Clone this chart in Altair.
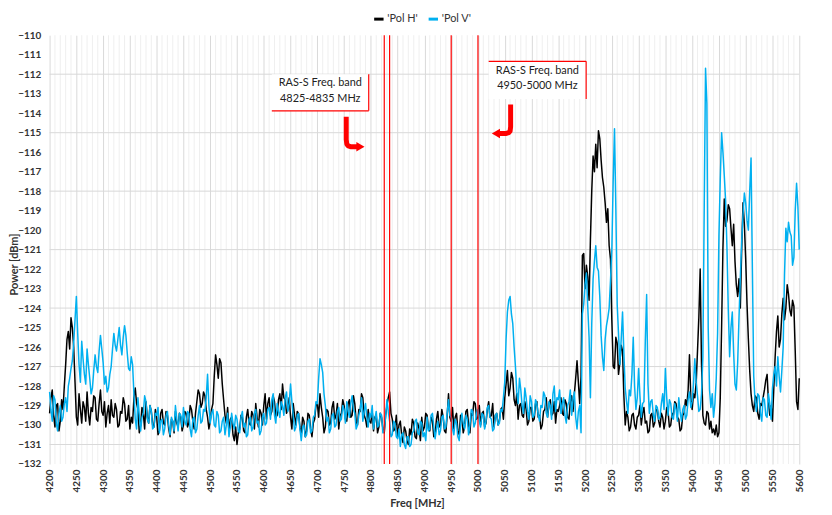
import altair as alt
import pandas as pd

# ---------------- data (one row = 50 MHz, 2.5 MHz step) ----------------
freq_start = 4200
freq_step = 2.5

pol_h = [
    -129.4, -128.6, -128.2, -129.5, -130.1, -129.0, -128.9, -130.3, -129.8, -128.7, -129.2, -128.0, -126.9, -125.6, -125.2, -126.1, -124.5, -125.0, -126.0, -127.8,  # 4200
    -129.6, -130.0, -128.4, -129.2, -129.9, -128.8, -129.1, -129.8, -128.3, -129.4, -130.0, -129.1, -129.3, -128.5, -128.6, -129.7, -129.8, -128.9, -128.2, -129.3,  # 4250
    -129.5, -128.8, -130.1, -129.4, -129.0, -129.9, -128.7, -129.5, -129.6, -128.9, -129.2, -130.1, -130.0, -129.3, -129.4, -128.6, -128.9, -129.8, -129.7, -129.0,  # 4300
    -130.2, -129.6, -129.9, -128.6, -128.1, -128.9, -129.2, -130.4, -130.0, -129.1, -129.4, -130.2, -128.8, -129.6, -129.9, -129.0, -129.3, -130.0, -130.1, -129.2,  # 4350
    -129.6, -130.5, -130.3, -129.4, -129.2, -129.9, -130.0, -129.3, -129.5, -130.2, -130.6, -129.7, -129.8, -130.4, -129.3, -129.9, -130.1, -129.4, -129.6, -130.3,  # 4400
    -130.0, -129.3, -129.4, -130.1, -129.9, -129.0, -129.2, -129.8, -130.2, -129.4, -128.8, -128.2, -128.4, -129.1, -128.9, -128.3, -128.5, -129.2, -129.6, -130.2,  # 4450
    -129.8, -129.2, -128.9, -127.5, -126.4, -126.9, -127.6, -126.6, -126.8, -127.9, -128.7, -129.5, -129.9, -129.1, -130.4, -129.7, -129.6, -130.5, -130.8, -130.1,  # 4500
    -131.0, -130.4, -130.2, -129.5, -129.6, -130.3, -130.4, -129.6, -129.2, -129.9, -130.0, -129.3, -129.5, -130.2, -128.9, -129.6, -130.1, -129.2, -129.4, -130.0,  # 4550
    -129.0, -128.4, -129.7, -128.9, -128.6, -129.5, -129.3, -128.5, -128.8, -129.6, -129.5, -128.7, -128.4, -129.2, -127.9, -128.6, -128.7, -129.4, -129.2, -128.6,  # 4600
    -129.6, -130.2, -128.9, -129.5, -130.0, -129.3, -129.4, -130.1, -130.5, -129.6, -129.8, -130.6, -130.3, -129.4, -129.5, -130.2, -130.6, -129.9, -129.7, -129.0,  # 4650
    -128.9, -129.6, -128.4, -129.1, -129.6, -130.4, -130.1, -129.2, -129.3, -130.0, -129.9, -129.1, -128.8, -129.7, -129.5, -128.9, -130.2, -129.5, -129.4, -128.7,  # 4700
    -129.0, -129.7, -129.8, -128.9, -128.7, -129.6, -129.5, -128.5, -128.9, -129.8, -130.0, -129.2, -129.3, -128.4, -128.6, -129.5, -129.7, -130.1, -129.2, -129.8,  # 4750
    -129.9, -129.3, -130.3, -129.6, -129.5, -130.4, -130.1, -129.4, -129.6, -130.2, -130.4, -129.5, -129.0, -128.6, -128.3, -129.4, -129.7, -130.3, -130.2, -129.5,  # 4800
    -130.6, -130.0, -129.8, -130.5, -130.9, -130.1, -130.3, -130.8, -131.0, -130.2, -130.5, -129.7, -129.9, -130.6, -130.7, -129.9, -130.2, -130.8, -129.6, -130.3,  # 4850
    -130.1, -129.4, -129.5, -130.2, -130.3, -129.6, -129.8, -130.6, -130.5, -129.7, -129.3, -130.1, -130.0, -129.2, -129.6, -130.3, -130.4, -129.5, -128.4, -129.6,  # 4900
    -129.8, -129.1, -130.2, -129.6, -129.4, -130.3, -130.5, -129.5, -129.7, -130.4, -130.1, -129.3, -129.2, -130.0, -130.4, -129.4, -129.5, -128.8, -128.9, -129.7,  # 4950
    -129.6, -129.0, -130.0, -129.4, -129.3, -130.1, -129.9, -129.2, -128.8, -129.6, -129.5, -128.9, -130.1, -129.5, -129.4, -130.0, -129.8, -129.2, -129.1, -129.7,  # 5000
    -128.6, -127.9, -127.2, -128.5, -128.1, -127.3, -127.6, -128.7, -129.0, -128.4, -129.7, -129.0, -128.9, -129.5, -129.6, -128.8, -129.2, -130.0, -129.8, -129.1,  # 5050
    -129.1, -129.8, -129.7, -128.9, -128.8, -129.6, -129.5, -130.2, -130.0, -129.3, -129.2, -128.6, -129.6, -129.0, -128.7, -129.5, -129.4, -128.8, -129.9, -129.2,  # 5100
    -129.3, -129.0, -128.6, -129.4, -129.5, -128.7, -128.9, -129.6, -129.7, -128.8, -128.5, -129.3, -128.4, -127.6, -126.7, -127.8, -128.9, -127.5, -121.3, -121.2,  # 5150
    -123.0, -121.8, -122.4, -123.6, -120.5, -118.0, -116.2, -117.0, -115.6, -116.8, -114.9, -115.3, -116.4, -117.3, -117.8, -118.6, -119.6, -118.9, -120.8, -121.5,  # 5200
    -124.6, -127.0, -127.1, -125.5, -125.8, -127.4, -126.8, -125.9, -126.2, -128.5, -130.0, -129.3, -129.6, -130.3, -130.1, -129.5, -129.4, -130.0, -130.2, -129.6,  # 5250
    -129.5, -129.0, -130.0, -129.4, -129.1, -129.9, -129.8, -130.4, -130.3, -129.5, -129.4, -130.1, -129.9, -129.2, -129.2, -129.8, -130.1, -129.4, -129.6, -130.2,  # 5300
    -129.8, -129.1, -129.3, -130.1, -130.0, -129.4, -129.5, -128.8, -128.9, -129.6, -129.7, -130.3, -130.2, -129.5, -129.4, -128.7, -129.0, -128.2, -126.4, -128.6,  # 5350
    -129.2, -128.4, -128.6, -127.8, -126.2, -124.5, -122.0, -126.9, -129.5, -129.9, -130.0, -129.3, -129.4, -130.2, -129.8, -130.4, -130.2, -130.5, -130.0, -130.6,  # 5400
    -130.4, -128.6, -125.0, -120.9, -118.4, -119.8, -119.5, -118.7, -118.9, -119.9, -120.8, -119.7, -121.6, -122.8, -123.4, -122.5, -124.0, -121.0, -118.6, -119.7,  # 5450
    -121.5, -123.8, -125.6, -127.2, -128.4, -129.0, -129.3, -128.5, -128.6, -129.4, -129.7, -128.9, -129.0, -128.6, -128.2, -127.7, -127.4, -128.8, -129.5, -129.0,  # 5500
    -129.8, -128.1, -126.5, -125.2, -124.4, -126.0, -125.6, -124.3, -123.5, -124.6, -124.0, -122.8, -123.3, -124.1, -124.4, -123.6, -123.9, -126.2, -128.8, -129.2,  # 5550
    -127.6,                                                                                                                                                          # 5600
]

pol_v = [
    -128.3, -129.2, -129.8, -128.5, -128.7, -129.9, -130.3, -129.4, -129.0, -129.8, -129.6, -128.9, -128.6, -129.3, -128.0, -127.6, -127.1, -126.7, -125.8, -124.6,  # 4200
    -123.4, -125.3, -126.9, -127.8, -125.7, -126.6, -127.4, -127.9, -126.1, -126.9, -127.6, -128.4, -128.1, -127.2, -126.4, -127.0, -127.3, -126.2, -125.4, -126.1,  # 4250
    -126.8, -127.9, -127.5, -128.3, -128.1, -127.4, -127.0, -126.1, -125.3, -125.9, -126.2, -125.6, -125.0, -125.9, -126.4, -125.5, -124.9, -125.4, -126.3, -127.1,  # 4300
    -127.2, -126.5, -126.9, -128.4, -129.7, -130.2, -128.6, -129.5, -130.3, -129.6, -129.4, -128.5, -128.8, -129.7, -129.9, -129.0, -129.3, -130.2, -130.1, -129.4,  # 4350
    -129.5, -129.1, -130.4, -129.8, -129.7, -130.5, -130.2, -129.5, -129.3, -130.0, -130.5, -129.6, -129.8, -130.3, -129.0, -129.7, -130.3, -129.4, -129.5, -130.1,  # 4400
    -129.1, -129.8, -130.0, -129.3, -129.4, -130.2, -130.6, -129.7, -129.6, -130.4, -130.2, -129.5, -129.0, -129.9, -129.8, -129.2, -129.3, -128.6, -127.4, -129.0,  # 4450
    -129.9, -129.4, -129.2, -130.0, -130.1, -129.3, -129.5, -130.4, -130.3, -129.8, -129.6, -130.5, -130.0, -129.4, -130.6, -130.1, -129.4, -129.9, -130.2, -129.5,  # 4500
    -129.7, -130.3, -130.4, -129.6, -129.3, -130.1, -129.9, -130.6, -130.5, -129.7, -129.6, -130.3, -130.1, -129.4, -129.2, -129.9, -129.8, -130.5, -130.3, -129.6,  # 4550
    -129.4, -130.0, -129.9, -129.2, -129.1, -129.7, -128.7, -128.4, -129.5, -129.9, -128.9, -129.3, -129.6, -128.8, -129.0, -129.5, -128.6, -128.3, -129.3, -128.9,  # 4600
    -127.9, -128.8, -129.5, -130.3, -130.1, -129.5, -129.4, -130.2, -130.8, -130.1, -130.0, -130.6, -130.5, -129.8, -129.7, -130.4, -130.3, -129.6, -129.5, -128.8,  # 4650
    -128.9, -127.6, -126.6, -126.9, -127.3, -128.4, -129.0, -129.8, -129.6, -130.4, -130.2, -129.5, -129.4, -130.1, -130.0, -129.3, -129.1, -129.8, -129.7, -129.0,  # 4700
    -129.2, -129.9, -128.8, -129.3, -129.6, -128.9, -128.5, -129.2, -129.4, -130.2, -130.0, -129.5, -129.2, -128.6, -129.8, -129.3, -128.9, -129.6, -130.1, -129.4,  # 4750
    -129.6, -129.0, -130.2, -129.7, -129.3, -130.1, -130.0, -129.4, -129.5, -130.4, -130.3, -129.6, -128.7, -129.3, -129.8, -130.6, -130.5, -129.8, -129.9, -130.6,  # 4800
    -130.7, -130.2, -131.1, -130.5, -130.4, -131.0, -131.2, -130.6, -130.6, -131.1, -131.0, -130.4, -130.3, -129.8, -129.7, -130.4, -130.5, -129.8, -129.9, -130.6,  # 4850
    -130.4, -130.8, -129.6, -130.3, -130.2, -129.5, -129.4, -130.1, -130.7, -130.2, -129.8, -130.5, -130.3, -129.6, -129.5, -130.2, -130.1, -129.4, -128.7, -129.5,  # 4900
    -129.6, -130.2, -130.5, -129.7, -129.9, -130.6, -130.8, -130.0, -129.4, -129.9, -130.2, -129.5, -129.7, -130.5, -130.0, -129.2, -129.3, -130.1, -129.9, -129.4,  # 4950
    -129.2, -129.8, -130.1, -129.4, -129.5, -130.2, -129.8, -129.1, -129.0, -129.6, -129.7, -130.3, -130.2, -129.5, -129.4, -130.0, -129.9, -129.2, -129.3, -128.6,  # 5000
    -127.8, -125.6, -124.2, -123.6, -123.4, -124.3, -124.8, -126.0, -127.0, -128.3, -128.9, -127.6, -128.2, -129.0, -129.4, -128.1, -128.6, -129.3, -129.7, -128.5,  # 5050
    -128.8, -129.6, -129.5, -128.7, -128.9, -129.5, -129.8, -129.0, -129.1, -128.3, -128.5, -129.4, -129.6, -128.8, -129.0, -129.7, -128.4, -128.0, -129.3, -128.6,  # 5100
    -128.7, -128.2, -129.4, -128.9, -128.6, -129.5, -129.9, -129.0, -128.8, -128.2, -129.5, -128.7, -128.3, -129.6, -130.2, -129.3, -129.0, -130.4, -124.3, -123.8,  # 5150
    -122.8, -122.2, -123.9, -125.5, -128.6, -124.8, -122.5, -121.6, -120.8, -121.9, -122.1, -123.4, -125.4, -126.5, -127.2, -125.6, -124.9, -124.5, -124.0, -122.6,  # 5200
    -121.0, -117.5, -114.8, -118.9, -123.8, -125.3, -126.9, -125.6, -124.2, -126.3, -128.1, -128.8, -129.4, -128.2, -128.5, -127.4, -125.5, -128.0, -129.2, -128.6,  # 5250
    -127.1, -128.5, -129.6, -128.9, -128.8, -125.7, -123.3, -127.9, -129.4, -128.8, -128.7, -129.5, -129.8, -129.0, -129.1, -129.7, -129.6, -128.9, -128.4, -129.2,  # 5300
    -127.1, -128.6, -129.5, -128.7, -128.9, -129.6, -129.7, -128.9, -129.2, -129.8, -128.6, -129.3, -129.8, -129.2, -129.0, -129.7, -129.5, -128.7, -128.3, -129.1,  # 5350
    -128.8, -127.9, -126.6, -127.8, -128.5, -129.3, -129.2, -128.4, -126.5, -119.0, -111.7, -113.5, -125.0, -128.2, -129.1, -128.4, -129.6, -128.9, -127.6, -125.3,  # 5400
    -120.3, -117.4, -115.0, -116.0, -117.2, -118.5, -120.9, -124.1, -126.5, -125.0, -124.2, -126.3, -127.9, -128.2, -126.8, -124.5, -122.4, -120.6, -119.2, -118.1,  # 5450
    -118.6, -119.5, -120.0, -118.0, -116.3, -122.0, -127.5, -128.8, -129.3, -128.4, -128.5, -129.4, -129.8, -128.6, -128.7, -129.5, -129.6, -128.4, -128.9, -129.7,  # 5500
    -128.1, -127.4, -127.0, -128.0, -126.5, -127.5, -128.3, -127.2, -126.0, -122.3, -119.9, -120.6, -119.6, -120.1, -120.3, -121.8, -121.4, -119.0, -117.6, -118.8,  # 5550
    -121.0,                                                                                                                                                          # 5600
]

series_names = ["'Pol H'", "'Pol V'"]
series_colors = ["#000000", "#00B0F0"]

band_edges = [4825, 4835, 4950, 5000]

x_ticks = list(range(4200, 5601, 50))
y_ticks = list(range(-132, -109, 1))
y_grid = [-112, -115, -118, -121, -124, -127, -131]
x_minor = [f for f in range(4210, 5600, 10) if f % 50 != 0]

# annotation boxes (data coordinates)
box_f1 = [4615, 5020]
box_f2 = [4796, 5202]
box_p1 = [-112.0, -111.34]
box_p2 = [-113.88, -113.27]
box_line1 = ["RAS-S Freq. band", "RAS-S Freq. band"]
box_line2 = ["4825-4835 MHz", "4950-5000 MHz"]
box_text_p1 = [-112.45, -111.85]
box_text_p2 = [-113.27, -112.62]

# ---------------- frames ----------------
freqs_h = [freq_start + i * freq_step for i in range(len(pol_h))]
freqs_v = [freq_start + i * freq_step for i in range(len(pol_v))]
df = pd.DataFrame({
    "freq": freqs_h + freqs_v,
    "power": pol_h + pol_v,
    "series": [series_names[0]] * len(pol_h) + [series_names[1]] * len(pol_v),
})

box_df = pd.DataFrame({"freq": box_f1, "freq2": box_f2, "power": box_p1, "power2": box_p2})

border_df = pd.DataFrame({
    # box 1: right and bottom edges ; box 2: top and right edges
    "freq":   [box_f2[0], box_f1[0], box_f1[1], box_f2[1]],
    "freq2":  [box_f2[0], box_f2[0], box_f2[1], box_f2[1]],
    "power":  [box_p1[0], box_p2[0], box_p1[1], box_p1[1]],
    "power2": [box_p2[0], box_p2[0], box_p1[1], box_p2[1]],
})

text_df = pd.DataFrame({
    "freq": [(a + b) / 2 for a, b in zip(box_f1, box_f2)] * 2,
    "power": box_text_p1 + box_text_p2,
    "label": box_line1 + box_line2,
})

arrow_df = pd.DataFrame({
    "arrow": ["a"] * 6 + ["b"] * 6,
    "idx": list(range(6)) * 2,
    "freq": [4754, 4754, 4755, 4757.5, 4762, 4777,
             5061, 5061, 5060, 5057.5, 5053, 5037],
    "power": [-114.18, -115.35, -115.58, -115.68, -115.72, -115.72,
              -113.56, -114.70, -114.92, -115.00, -115.04, -115.04],
})
head_df = pd.DataFrame({
    "freq": [4780.5, 5033.5],
    "power": [-115.72, -115.04],
    "shape": ["triangle-right", "triangle-left"],
})

FONT = "Lato"
TXT = "#333333"

xscale = alt.Scale(domain=[4200, 5600], nice=False, zero=False)
yscale = alt.Scale(domain=[-132, -110], nice=False, zero=False)

X_T = "Freq [MHz]"
Y_T = "Power [dBm]"

x_axis = alt.Axis(
    values=x_ticks, format="d", labelAngle=270, grid=True, gridColor="#d9d9d9", gridWidth=1,
    ticks=False, domain=False, labelFont=FONT, labelFontSize=10, labelFontWeight="bold",
    labelColor=TXT, labelPadding=5, title=X_T, titleFont=FONT, titleFontSize=11,
    titleFontWeight="bold", titleColor=TXT, titleX=371, titleY=34, labelFlush=False,
    labelOverlap=False,
)
y_axis = alt.Axis(
    values=y_ticks, format="d", grid=False, ticks=False, domain=False, labelFont=FONT,
    labelFontSize=10, labelFontWeight="bold", labelColor=TXT, labelPadding=9,
    title=Y_T, titleFont=FONT, titleFontSize=11, titleFontWeight="bold",
    titleColor=TXT, titleX=-30, titleY=231, labelOverlap=False, labelFlush=False,
)


def X():
    return alt.X("freq:Q", scale=xscale, axis=x_axis, title=X_T)


def Y():
    return alt.Y("power:Q", scale=yscale, axis=y_axis, title=Y_T)


minor = alt.Chart(pd.DataFrame({"freq": x_minor})).mark_rule(
    color="#efefef", strokeWidth=1
).encode(x=X())

hgrid = alt.Chart(pd.DataFrame({"power": y_grid})).mark_rule(
    color="#d9d9d9", strokeWidth=1
).encode(y=Y())

boxes = alt.Chart(box_df).mark_rect(fill="white", stroke=None).encode(
    x=X(), x2="freq2", y=Y(), y2="power2",
)

lines = alt.Chart(df).mark_line(strokeWidth=1.5, strokeJoin="round").encode(
    x=X(),
    y=Y(),
    color=alt.Color(
        "series:N",
        scale=alt.Scale(domain=series_names, range=series_colors),
        legend=alt.Legend(
            orient="none", legendX=326, legendY=-23, direction="horizontal",
            title=None, symbolType="stroke", symbolStrokeWidth=3, symbolSize=90,
            labelFont=FONT, labelFontSize=11, labelColor=TXT, columnPadding=4,
            labelOffset=2, padding=0,
        ),
    ),
)

edges = alt.Chart(pd.DataFrame({"freq": band_edges})).mark_rule(
    color="#FF0000", strokeWidth=1.2
).encode(x=X())

borders = alt.Chart(border_df).mark_rule(color="#FF0000", strokeWidth=1.2).encode(
    x=X(), x2="freq2", y=Y(), y2="power2",
)

texts = alt.Chart(text_df).mark_text(
    font=FONT, fontSize=11, color="#222222", align="center", baseline="middle"
).encode(x=X(), y=Y(), text="label:N")

arrows = alt.Chart(arrow_df).mark_line(
    color="#FF0000", strokeWidth=5, strokeJoin="round", strokeCap="butt"
).encode(x=X(), y=Y(), detail="arrow:N", order="idx:Q")

heads = alt.Chart(head_df).mark_point(filled=True, color="#FF0000", size=90, opacity=1).encode(
    x=X(), y=Y(), shape=alt.Shape("shape:N", scale=None),
)

chart = alt.layer(
    minor, hgrid, boxes, lines, edges, borders, texts, arrows, heads
).properties(
    width=757, height=433,
    autosize=alt.AutoSizeParams(type="none"),
    padding={"left": 42, "top": 25, "right": 25, "bottom": 49},
    background="white",
).configure_view(stroke=None)

chart.save("out.html", embed_options={"renderer": "svg", "actions": False})
